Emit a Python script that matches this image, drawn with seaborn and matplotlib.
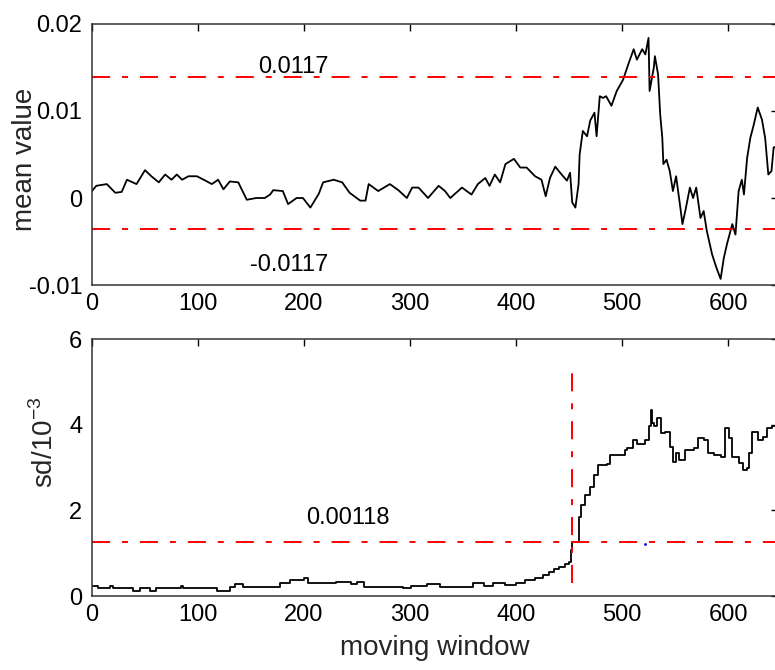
import matplotlib
matplotlib.use('Agg')
import matplotlib.pyplot as plt
import seaborn as sns

# 이동 창 평균값 (위 그래프)
x_mean = [0, 4, 14, 22, 28, 33, 42, 50, 56, 63, 69, 75, 80, 85, 91, 99, 107, 113, 119, 124,
          130, 138, 146, 155, 163, 168, 171, 180, 185, 193, 199, 206, 214, 218, 228, 236, 243, 253, 258, 261,
          270, 281, 289, 297, 302, 308, 317, 327, 333, 338, 349, 358, 364, 371, 375, 380, 385, 390, 398, 404,
          410, 418, 424, 428, 432, 437, 443, 448, 451, 453, 456, 459, 460, 463, 467, 470, 474, 476, 479, 482,
          485, 490, 495, 501, 506, 511, 514, 519, 522, 525, 526, 530, 531, 534, 536, 538, 539, 542, 545, 548,
          551, 555, 557, 560, 564, 567, 570, 574, 577, 580, 585, 589, 593, 596, 599, 604, 607, 610, 613, 615,
          618, 621, 624, 628, 632, 635, 638, 641, 643, 647]
mean_vals = [0.0008, 0.0014, 0.0016, 0.0006, 0.0007, 0.0021, 0.0016, 0.0032, 0.0025, 0.0018,
             0.0027, 0.0021, 0.0027, 0.0021, 0.0025, 0.0025, 0.0020, 0.0016, 0.0021, 0.0010,
             0.0019, 0.0018, -0.0002, 0.0000, 0.0000, 0.0004, 0.0009, 0.0008, -0.0007, 0.0000,
             0.0000, -0.0011, 0.0005, 0.0018, 0.0021, 0.0018, 0.0006, -0.0003, -0.0003, 0.0016,
             0.0008, 0.0016, 0.0009, 0.0000, 0.0012, 0.0012, 0.0000, 0.0014, 0.0008, 0.0000,
             0.0012, 0.0004, 0.0016, 0.0023, 0.0014, 0.0027, 0.0018, 0.0039, 0.0045, 0.0035,
             0.0035, 0.0025, 0.0021, 0.0002, 0.0023, 0.0036, 0.0027, 0.0020, 0.0029, -0.0005,
             -0.0011, 0.0016, 0.0050, 0.0077, 0.0071, 0.0089, 0.0098, 0.0071, 0.0117, 0.0115,
             0.0117, 0.0106, 0.0123, 0.0136, 0.0154, 0.0171, 0.0159, 0.0171, 0.0165, 0.0184,
             0.0123, 0.0150, 0.0163, 0.0142, 0.0096, 0.0069, 0.0039, 0.0044, 0.0031, 0.0008,
             0.0025, -0.0011, -0.0030, -0.0013, 0.0012, 0.0000, 0.0012, -0.0023, -0.0015, -0.0038,
             -0.0065, -0.0080, -0.0093, -0.0069, -0.0053, -0.0030, -0.0042, 0.0008, 0.0021, 0.0004,
             0.0046, 0.0069, 0.0083, 0.0104, 0.0090, 0.0069, 0.0027, 0.0031, 0.0058, 0.0060]

# 이동 창 표준편차 (아래 그래프, 단위 10^-3)
x_sd = [0, 6, 17, 20, 39, 45, 55, 60, 84, 86, 118, 130, 135, 142, 177, 187, 200, 204, 230, 244,
        250, 257, 293, 301, 316, 328, 359, 370, 378, 390, 400, 408, 418, 425, 431, 436, 441, 446, 450, 452,
        453, 459, 461, 465, 470, 474, 477, 486, 489, 500, 503, 505, 510, 514, 522, 525, 527, 528, 530, 533,
        537, 541, 545, 548, 551, 554, 559, 568, 572, 577, 581, 587, 593, 597, 601, 604, 610, 614, 618, 620,
        623, 628, 633, 637, 641, 647]
sd_vals = [0.24, 0.18, 0.24, 0.18, 0.12, 0.18, 0.12, 0.18, 0.24, 0.18, 0.12, 0.22, 0.28, 0.22, 0.30,
           0.37, 0.43, 0.30, 0.33, 0.28, 0.33, 0.22, 0.18, 0.23, 0.27, 0.22, 0.30, 0.24, 0.30, 0.26,
           0.30, 0.37, 0.42, 0.49, 0.55, 0.62, 0.68, 0.74, 0.80, 1.07, 1.27, 1.85, 2.13, 2.36, 2.55,
           2.83, 3.06, 3.08, 3.29, 3.29, 3.40, 3.45, 3.64, 3.56, 3.64, 3.96, 4.35, 4.05, 3.96, 4.15,
           3.80, 3.83, 3.49, 3.14, 3.33, 3.17, 3.41, 3.45, 3.68, 3.64, 3.33, 3.29, 3.25, 3.92, 3.68,
           3.25, 3.10, 2.94, 2.98, 3.33, 3.83, 3.64, 3.72, 3.92, 3.96, 4.00]

# 기준선
mean_upper = 0.0139
mean_lower = -0.0036
sd_level = 1.25
change_x = 452.5
change_span = [0.3, 5.2]

mean_yticks = [-0.01, 0, 0.01, 0.02]
mean_yticklabels = ['-0.01', '0', '0.01', '0.02']
sd_yticks = [0, 2, 4, 6]
xticks = [0, 100, 200, 300, 400, 500, 600]

sns.set_theme(style='white')
plt.rcParams['font.family'] = ['Liberation Sans', 'DejaVu Sans']
plt.rcParams['mathtext.fontset'] = 'custom'
plt.rcParams['mathtext.rm'] = 'Liberation Sans'
plt.rcParams['lines.scale_dashes'] = False

red_dash = (0, (13, 8.6, 4.3, 8.6))

fig = plt.figure(figsize=(7.75, 6.7), dpi=100)
ax1 = fig.add_axes([0.1187, 0.5746, 0.885, 0.3896])
ax2 = fig.add_axes([0.1187, 0.1104, 0.885, 0.3836])

# 위 그래프
sns.lineplot(x=x_mean, y=mean_vals, ax=ax1, color='black', linewidth=1.3, estimator=None)
ax1.axhline(mean_upper, color='red', linewidth=1.4, linestyle=red_dash)
ax1.axhline(mean_lower, color='red', linewidth=1.4, linestyle=red_dash)
ax1.text(190, 0.01437, '0.0117', fontsize=17, ha='center', va='baseline', color='black')
ax1.text(186, -0.0084, '-0.0117', fontsize=17, ha='center', va='baseline', color='black')
ax1.set_ylim(-0.01, 0.02)
ax1.set_yticks(mean_yticks)
ax1.set_yticklabels(mean_yticklabels)
ax1.set_ylabel('mean value', fontsize=20)
ax1.yaxis.set_label_coords(-0.079, 0.48)

# 아래 그래프
sns.lineplot(x=x_sd, y=sd_vals, ax=ax2, color='black', linewidth=1.3, estimator=None,
             drawstyle='steps-post')
ax2.axhline(sd_level, color='red', linewidth=1.4, linestyle=red_dash)
ax2.plot([change_x, change_x], change_span, color='red', linewidth=1.4, linestyle=red_dash)
ax2.plot([522], [1.22], marker='.', markersize=2, color='blue', linestyle='none')
ax2.text(241.5, 1.68, '0.00118', fontsize=17, ha='center', va='baseline', color='black')
ax2.set_ylim(0, 6)
ax2.set_yticks(sd_yticks)
ax2.set_ylabel('sd/10$^{-3}$', fontsize=20)
ax2.yaxis.set_label_coords(-0.048, 0.60)
ax2.set_xlabel('moving window', fontsize=20, labelpad=6)

for ax in (ax1, ax2):
    ax.set_xlim(0, 647)
    ax.set_xticks(xticks)
    ax.tick_params(direction='in', top=True, right=True, length=5, width=1,
                   labelsize=17, colors='black', pad=7)
    ax.tick_params(axis='x', pad=6)
    for s in ax.spines.values():
        s.set_visible(True)
        s.set_color('#333333')
        s.set_linewidth(1.1)

fig.savefig('out.png', dpi=100)
